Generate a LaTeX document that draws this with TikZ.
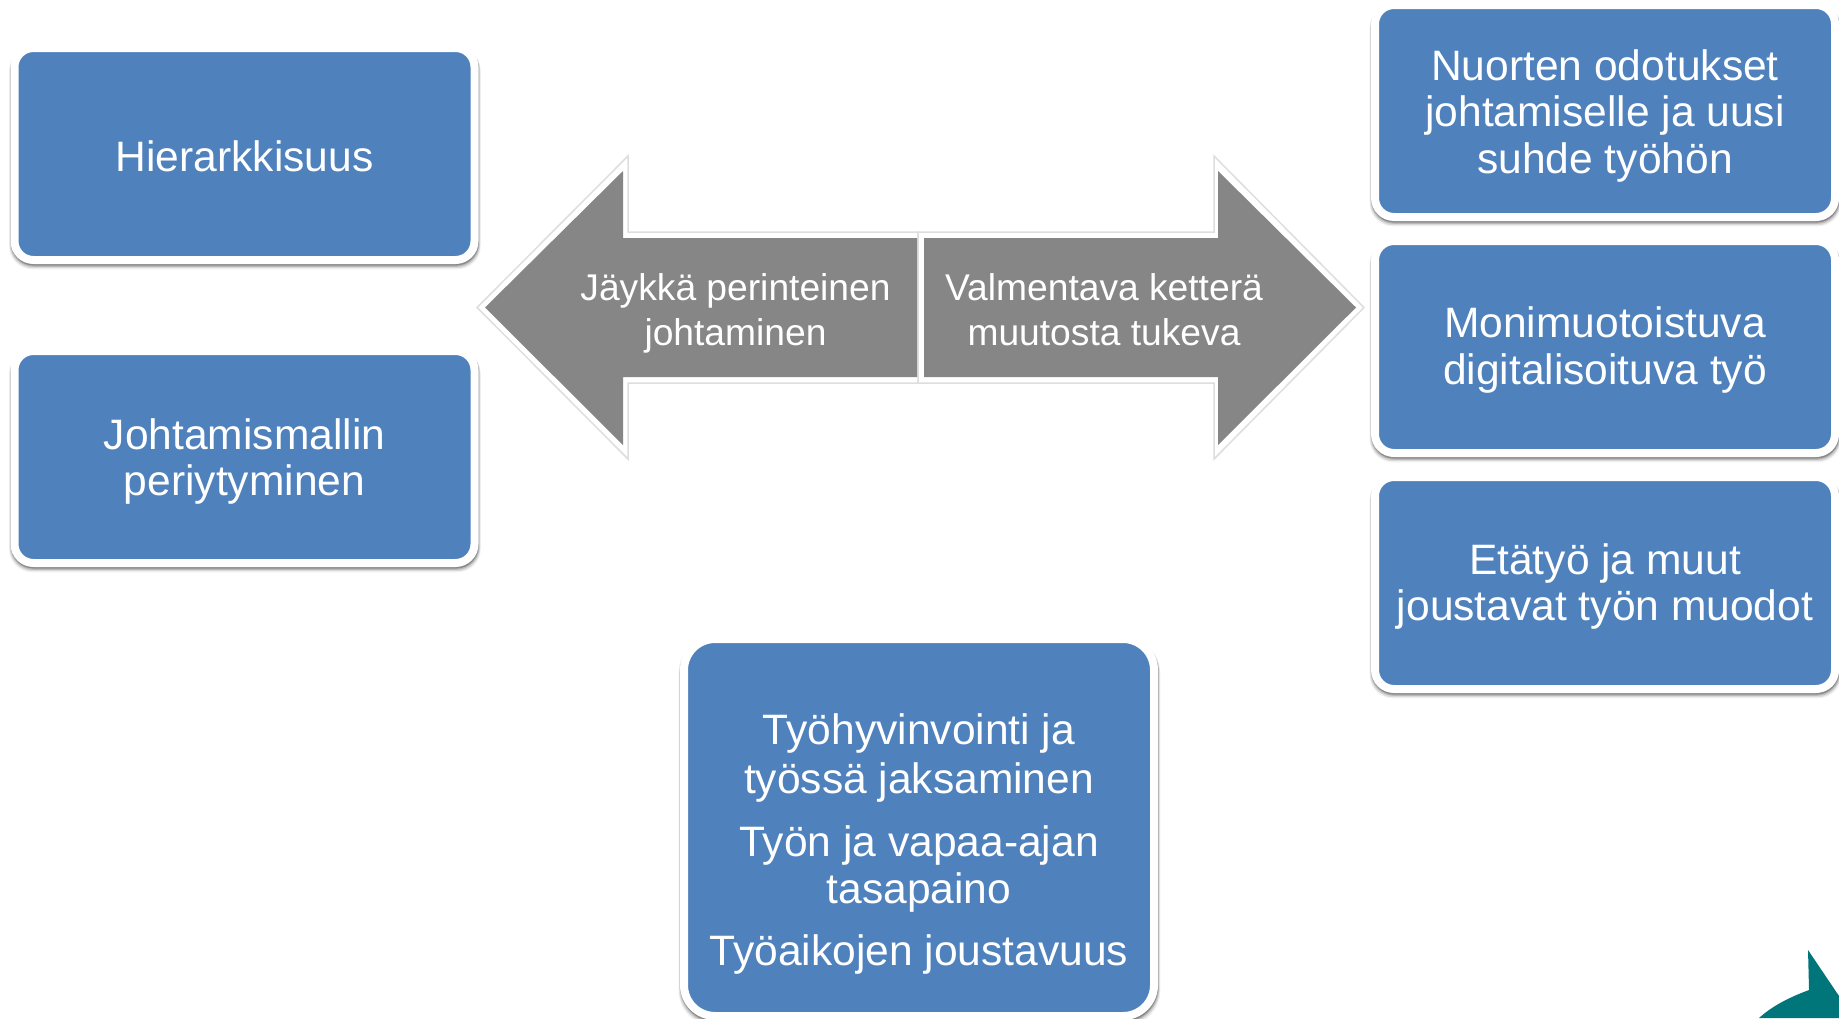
\documentclass[tikz,border=0pt]{standalone}
\usepackage{fontspec}
\setmainfont{Liberation Sans}
\usetikzlibrary{shadows}
\definecolor{boxblue}{RGB}{79,129,189}
\definecolor{arrowgray}{RGB}{134,134,134}
\definecolor{edgegray}{RGB}{222,222,222}
\definecolor{teal}{RGB}{0,118,122}
\tikzset{
  x=0.5pt,y=-0.5pt,
  softshadow/.style={
    general shadow={draw=black,line width=4pt,fill=black,opacity=.05,shadow xshift=.2pt,shadow yshift=-2.2pt,shadow scale=1.008},
    general shadow={draw=black,line width=4pt,fill=black,opacity=.10,shadow xshift=.2pt,shadow yshift=-1.8pt,shadow scale=1.005},
    general shadow={draw=black,line width=4pt,fill=black,opacity=.15,shadow xshift=.2pt,shadow yshift=-1.3pt,shadow scale=1.002},
    general shadow={draw=black,line width=4pt,fill=black,opacity=.20,shadow xshift=.2pt,shadow yshift=-.8pt}},
  bluebox/.style={softshadow,draw=white,line width=4pt,fill=boxblue,rounded corners=9.5pt,
    inner sep=0pt,outer sep=0pt},
  boxtext/.style={text=white,align=center,font=\fontsize{21.27}{23.2}\selectfont,inner sep=0pt},
  arrowshape/.style={draw=edgegray,line width=.75pt,fill=white,line join=miter},
  arrowfill/.style={fill=arrowgray,draw=none},
  arrowtext/.style={text=white,align=center,font=\fontsize{18.6}{22.5}\selectfont,inner sep=0pt},
}
\begin{document}
\begin{tikzpicture}
\clip (0,0) rectangle (1839,1018);
\fill[white] (0,0) rectangle (1839,1018);
% boxes
\node[bluebox,minimum width=230pt,minimum height=106pt] (hier) at (244.5,154) {};
\node[boxtext] (hiert) at (244.5,156.5) {Hierarkkisuus};
\node[bluebox,minimum width=230pt,minimum height=106pt] (malli) at (244.5,457) {};
\node[boxtext] (mallit) at (244.5,461.7) {Johtamismallin\\periytyminen};
\node[bluebox,minimum width=230pt,minimum height=106pt] (nuoret) at (1605,111) {};
\node[boxtext] (nuorett) at (1605,115.7) {Nuorten odotukset\\johtamiselle ja uusi\\suhde työhön};
\node[bluebox,minimum width=230pt,minimum height=106pt] (moni) at (1605,347) {};
\node[boxtext] (monit) at (1605,350) {Monimuotoistuva\\digitalisoituva työ};
\node[bluebox,minimum width=230pt,minimum height=106pt] (eta) at (1605,583) {};
\node[boxtext] (etat) at (1605,586.5) {Etätyö ja muut\\joustavat työn muodot};
\node[bluebox,rounded corners=15.5pt,minimum width=235pt,minimum height=188.5pt] (hyvin) at (919,827.5) {};
\node[boxtext] (hyvint) at (919,844) {Työhyvinvointi ja\\[1.3pt]työssä jaksaminen\\[8.3pt]Työn ja vapaa-ajan\\[.5pt]tasapaino\\[8pt]Työaikojen joustavuus};
% arrow outlines
\draw[arrowshape] (918,232) -- (628,232) -- (628,156) -- (477,307.5) -- (628,459) -- (628,383) -- (918,383) -- cycle;
\draw[arrowshape] (918,232) -- (1214,232) -- (1214,156) -- (1364,307.5) -- (1214,459) -- (1214,383) -- (918,383) -- cycle;
% arrow fills
\fill[arrowfill] (917,238) -- (623,238) -- (623,171) -- (485,307.5) -- (623,445) -- (623,377) -- (917,377) -- cycle;
\fill[arrowfill] (924,238) -- (1218,238) -- (1218,171) -- (1356,307.5) -- (1218,445) -- (1218,377) -- (924,377) -- cycle;
\node[arrowtext] (left) at (735.5,313.5) {Jäykkä perinteinen\\johtaminen};
\node[arrowtext] (right) at (1104,310) {Valmentava ketterä\\muutosta tukeva};
% teal corner
\fill[teal] (1808,950) -- (1809,990) .. controls (1790,997) and (1772,1006) .. (1759,1018) -- (1839,1018) -- (1839,996) -- cycle;
\end{tikzpicture}
\end{document}
